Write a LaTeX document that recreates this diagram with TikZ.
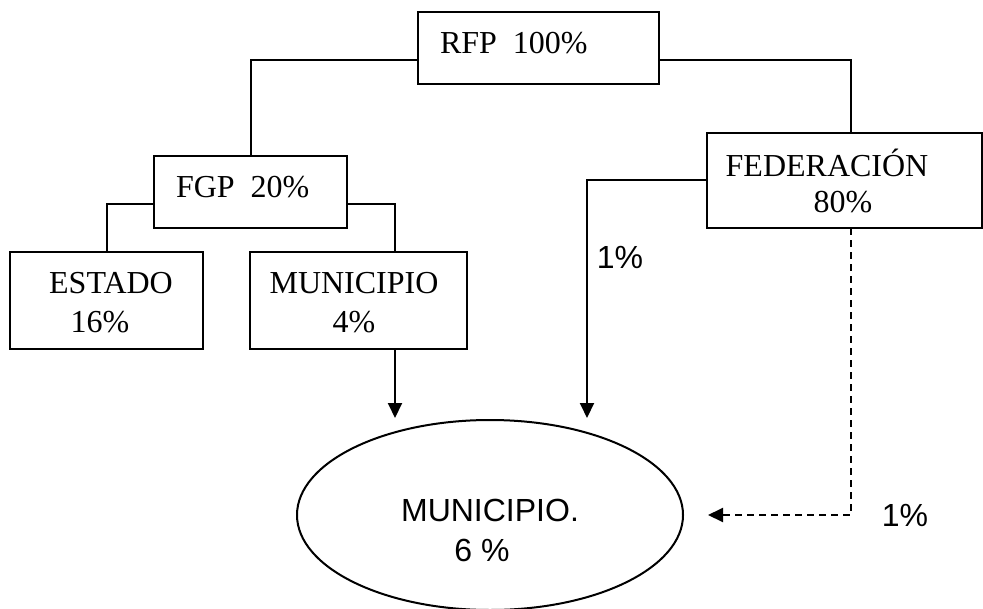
\documentclass[tikz,border=0pt]{standalone}
\usepackage{fontspec}
\setmainfont{Liberation Serif}
\newfontfamily\arialfont{Liberation Sans}
\usetikzlibrary{arrows.meta,shapes.geometric,positioning}

\begin{document}
\begin{tikzpicture}[
  x=0.5pt, y=-0.5pt,
  line width=1pt,
  share/.style={draw, inner sep=0pt, outer sep=0pt},
  txt/.style={inner sep=0pt, font=\fontsize{16}{19.5}\selectfont},
  pct/.style={inner sep=0pt, font=\arialfont\fontsize{16}{20}\selectfont},
  flow/.style={-{Triangle[length=7.5pt,width=7pt]}},
  aside/.style={flow, dash pattern=on 3.5pt off 2.5pt}]
  \useasboundingbox (0,0) rectangle (983,609);
  % boxes
  \node[share, minimum width=120.5pt, minimum height=36pt] (RFP) at (538.5,48) {};
  \node[share, minimum width=96.5pt, minimum height=36pt] (FGP) at (250.5,192) {};
  \node[share, minimum width=96.5pt, minimum height=48.5pt] (EST) at (106.5,300.5) {};
  \node[share, minimum width=108.5pt, minimum height=48.5pt] (MUN) at (358.5,300.5) {};
  \node[share, minimum width=137.5pt, minimum height=47.5pt] (FED) at (844.5,180.5) {};
  \node[share, ellipse, minimum width=193pt, minimum height=95pt] (MUNF) at (490,515) {};
  % texts
  \node[txt, anchor=west] (rfpT) at (439,43) {RFP\ \ 100\%};
  \node[txt, anchor=west] (fgpT) at (175,187) {FGP\ \ 20\%};
  \node[txt] (estT) at (111,283) {ESTADO};
  \node[txt] (estP) at (100,322) {16\%};
  \node[txt] (munT) at (354,283) {MUNICIPIO};
  \node[txt] (munP) at (354,322) {4\%};
  \node[txt] (fedT) at (827,163) {FEDERACIÓN};
  \node[txt] (fedP) at (843,202) {80\%};
  \node[pct] (munfT) at (490,510) {MUNICIPIO.};
  \node[pct] (munfP) at (482,550) {6 \%};
  \node[pct] (onePa) at (620,257) {1\%};
  \node[pct] (onePb) at (905,515) {1\%};
  % ends of the arrows
  \coordinate (inA) at (395,418);
  \coordinate (inB) at (587,418);
  \coordinate (inC) at (708,515);
  % tree
  \draw ([yshift=-6pt]RFP.west) -| (FGP.north);
  \draw ([yshift=-6pt]RFP.east) -| ([xshift=3pt]FED.north);
  \draw ([yshift=-6pt]FGP.west) -| (EST.north);
  \draw ([yshift=-6pt]FGP.east) -| (inA |- MUN.north);
  \draw[flow] (inA |- MUN.south) -- (inA);
  \draw[flow] (FED.west) -| (inB);
  \draw[aside] ([xshift=3pt]FED.south) |- (inC);
\end{tikzpicture}
\end{document}
